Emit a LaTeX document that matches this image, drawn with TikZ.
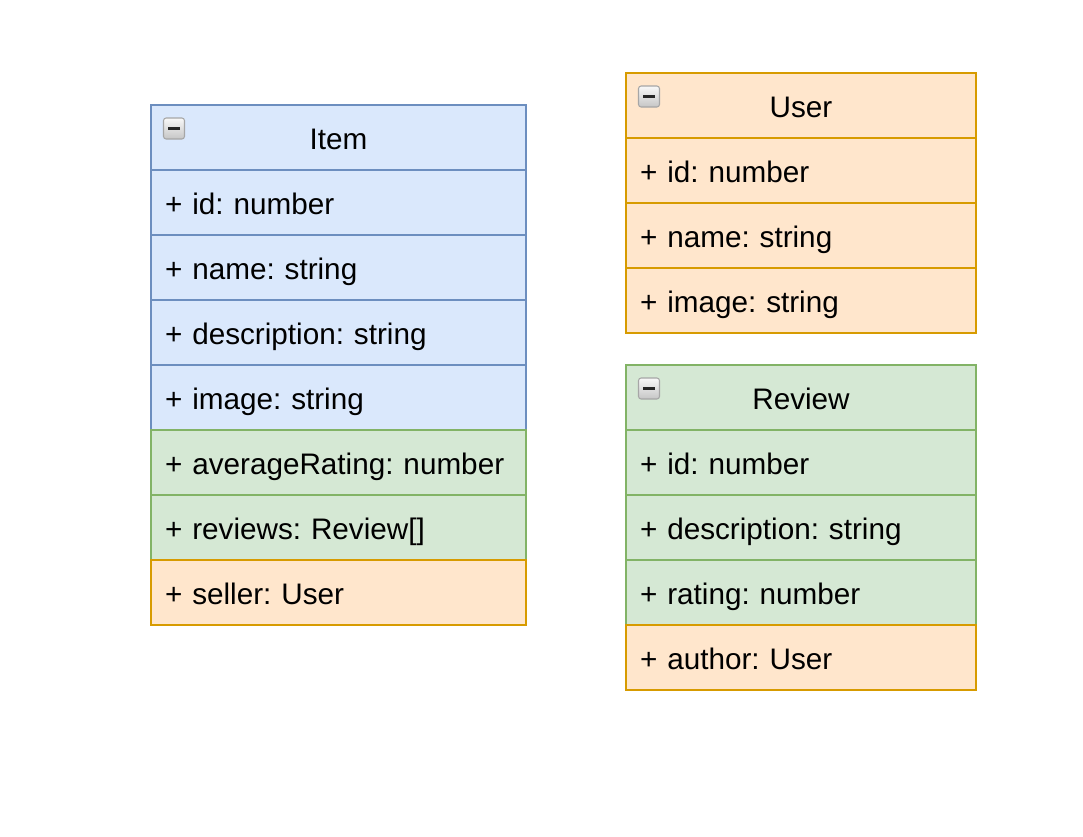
\documentclass[tikz,border=0pt]{standalone}
\usepackage{fontspec}
\setmainfont{Liberation Sans}
\usepackage{xcolor}
\usetikzlibrary{positioning}
\definecolor{umlblue}{HTML}{DAE8FC}
\definecolor{umlblueln}{HTML}{6C8EBF}
\definecolor{umlgreen}{HTML}{D5E8D4}
\definecolor{umlgreenln}{HTML}{82B366}
\definecolor{umlorange}{HTML}{FFE6CC}
\definecolor{umlorangeln}{HTML}{D79B00}
\frenchspacing

\begin{document}
\begin{tikzpicture}[x=0.02cm,y=-0.02cm,font=\fontsize{16.9}{20}\selectfont,
        row/.style={line width=1.1pt,outer sep=0pt,minimum height=1.3cm,inner xsep=0.28cm,inner ysep=0pt,
          text height=0.6cm,text depth=0.1cm,align=left,anchor=north},
        wide/.style={row,text width=6.94cm},narrow/.style={row,text width=6.44cm},
        blu/.style={fill=umlblue,draw=umlblueln},grn/.style={fill=umlgreen,draw=umlgreenln},org/.style={fill=umlorange,draw=umlorangeln},
        tog/.style={draw=gray!70,line width=0.6pt,rounded corners=1.5pt,top color=gray!5,bottom color=gray!45,minimum size=0.42cm,inner sep=0pt}]
        \useasboundingbox (0,0) rectangle (1083,836);
        % Item
        \node[wide,blu,align=center] (item) at (338.5,105) {Item};
        \node[wide,blu,below=0pt of item] (itemid) {+ id: number};
        \node[wide,blu,below=0pt of itemid] (itemname) {+ name: string};
        \node[wide,blu,below=0pt of itemname] (itemdesc) {+ description: string};
        \node[wide,blu,below=0pt of itemdesc] (itemimg) {+ image: string};
        \node[wide,grn,below=0pt of itemimg] (itemrating) {+ averageRating: number};
        \node[wide,grn,below=0pt of itemrating] (itemreviews) {+ reviews: Review[]};
        \node[wide,org,below=0pt of itemreviews] (itemseller) {+ seller: User};
        \node[tog] (itemtog) at (174,128.5) {\color{black!85}\rule{0.24cm}{0.06cm}};
        % User
        \node[narrow,org,align=center] (user) at (801,73) {User};
        \node[narrow,org,below=0pt of user] (userid) {+ id: number};
        \node[narrow,org,below=0pt of userid] (username) {+ name: string};
        \node[narrow,org,below=0pt of username] (userimg) {+ image: string};
        \node[tog] (usertog) at (649,96.5) {\color{black!85}\rule{0.24cm}{0.06cm}};
        % Review
        \node[narrow,grn,align=center] (review) at (801,365) {Review};
        \node[narrow,grn,below=0pt of review] (reviewid) {+ id: number};
        \node[narrow,grn,below=0pt of reviewid] (reviewdesc) {+ description: string};
        \node[narrow,grn,below=0pt of reviewdesc] (reviewrating) {+ rating: number};
        \node[narrow,org,below=0pt of reviewrating] (reviewauthor) {+ author: User};
        \node[tog] (reviewtog) at (649,388.5) {\color{black!85}\rule{0.24cm}{0.06cm}};
      \end{tikzpicture}
\end{document}
